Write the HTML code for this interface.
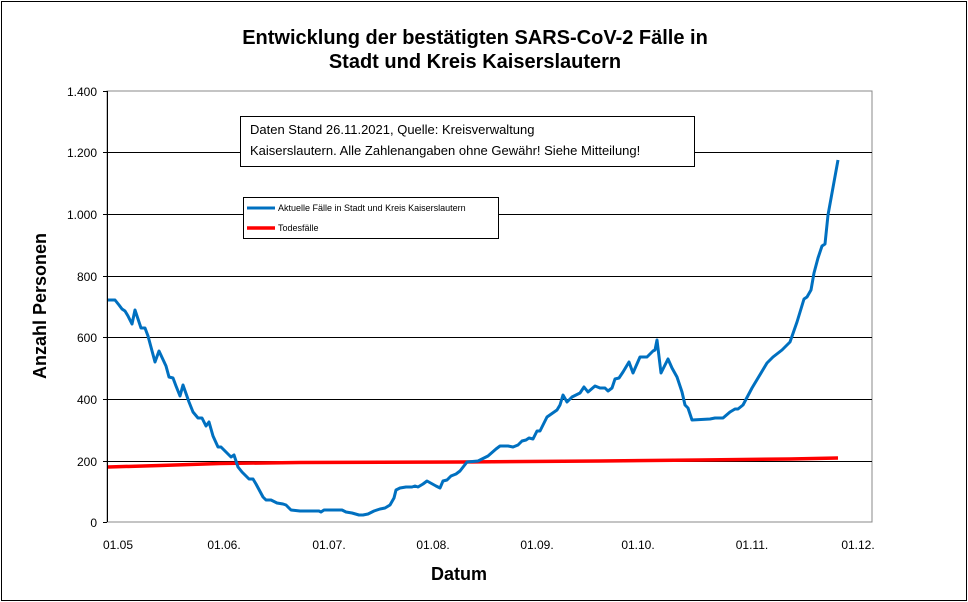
<!DOCTYPE html>
<html><head><meta charset="utf-8"><style>
body{margin:0;background:#fff;}
svg{display:block;font-family:"Liberation Sans",Arial,sans-serif;}
</style></head><body>
<svg width="968" height="602" viewBox="0 0 968 602">
<rect x="1.5" y="1.5" width="965" height="599" fill="#fff" stroke="#000" stroke-width="1"/>
<text x="475" y="44" font-size="20" font-weight="bold" text-anchor="middle">Entwicklung der bestätigten SARS-CoV-2 Fälle in</text>
<text x="475" y="68" font-size="20" font-weight="bold" text-anchor="middle">Stadt und Kreis Kaiserslautern</text>
<rect x="107" y="91" width="765" height="431" fill="#fff" stroke="#888" stroke-width="1"/>
<g stroke="#000" stroke-width="1">
<line x1="107" y1="152.5" x2="872" y2="152.5"/>
<line x1="107" y1="214.5" x2="872" y2="214.5"/>
<line x1="107" y1="276.5" x2="872" y2="276.5"/>
<line x1="107" y1="337.5" x2="872" y2="337.5"/>
<line x1="107" y1="399.5" x2="872" y2="399.5"/>
<line x1="107" y1="461.5" x2="872" y2="461.5"/>
<line x1="107.5" y1="91" x2="107.5" y2="522"/>
<line x1="103" y1="91.5" x2="107" y2="91.5"/><line x1="103" y1="152.5" x2="107" y2="152.5"/><line x1="103" y1="214.5" x2="107" y2="214.5"/><line x1="103" y1="276.5" x2="107" y2="276.5"/><line x1="103" y1="337.5" x2="107" y2="337.5"/><line x1="103" y1="399.5" x2="107" y2="399.5"/><line x1="103" y1="461.5" x2="107" y2="461.5"/><line x1="103" y1="522.5" x2="107" y2="522.5"/>
</g>
<g font-size="12" text-anchor="end">
<text x="97" y="96">1.400</text><text x="97" y="157">1.200</text><text x="97" y="219">1.000</text><text x="97" y="281">800</text><text x="97" y="342">600</text><text x="97" y="404">400</text><text x="97" y="466">200</text><text x="97" y="527">0</text>
</g>
<g font-size="12" text-anchor="middle">
<text x="118" y="549">01.05</text><text x="224" y="549">01.06.</text><text x="329" y="549">01.07.</text><text x="433" y="549">01.08.</text><text x="537" y="549">01.09.</text><text x="638" y="549">01.10.</text><text x="752" y="549">01.11.</text><text x="858" y="549">01.12.</text>
</g>
<text x="459" y="580" font-size="18" font-weight="bold" text-anchor="middle">Datum</text>
<text transform="translate(46,306) rotate(-90)" font-size="18" font-weight="bold" text-anchor="middle">Anzahl Personen</text>
<polyline fill="none" stroke="#ff0000" stroke-width="3.5" points="108,467 160,465.5 220,463.5 300,462.5 460,462 600,461 700,460 790,459 838,458"/>
<polyline fill="none" stroke="#0070c0" stroke-width="3" stroke-linejoin="round" points="108,300 115,300 119,305 122,309 125,311 128,316 132,324 135,310 141,328 145,328 148,336 155,362 159,351 166,366 169,377 173,378 176,386 180,396 183,385 189,402 193,412 198,418 202,418 206,426 209,422 213,436 218,447 221,447 227,453 231,457 234,455 238,467 242,472 249,479 253,479 256,484 263,497 266,500 271,500 277,503 283,504 286,505 291,510 300,511 319,511 321,512 324,510 342,510 346,512 352,513 359,515 363,515 368,514 374,511 380,509 385,508 390,505 394,498 396,490 400,488 406,487 412,487 415,486 418,487 423,484 427,481 436,486 440,488 443,481 447,480 451,476 456,474 460,471 467,462 478,461 488,456 496,449 500,446 508,446 513,447 518,445 522,441 526,440 529,438 533,439 537,431 540,431 547,417 557,410 560,405 563,395 567,402 572,397 580,393 584,387 588,392 595,386 600,388 605,388 608,391 612,388 615,379 619,378 623,372 629,362 633,373 640,357 647,357 653,351 655,350 657,340 661,373 668,359 672,368 677,377 682,392 685,405 688,408 692,420 710,419 715,418 723,418 730,412 735,409 738,409 743,405 752,388 758,378 767,363 773,357 782,350 790,342 797,322 804,299 807,297 811,290 814,273 818,258 822,246 825,244 828,215 832,193 838,160"/>
<rect x="240.5" y="116.5" width="454" height="50" fill="#fff" stroke="#000"/>
<text x="250" y="134" font-size="13">Daten Stand 26.11.2021, Quelle: Kreisverwaltung</text>
<text x="250" y="155" font-size="13">Kaiserslautern. Alle Zahlenangaben ohne Gewähr! Siehe Mitteilung!</text>
<rect x="243.5" y="197.5" width="255" height="41" fill="#fff" stroke="#000"/>
<line x1="247" y1="208" x2="275" y2="208" stroke="#0070c0" stroke-width="3"/>
<text x="278" y="211" font-size="9">Aktuelle Fälle in Stadt und Kreis Kaiserslautern</text>
<line x1="247" y1="228" x2="275" y2="228" stroke="#ff0000" stroke-width="3.5"/>
<text x="278" y="231" font-size="9">Todesfälle</text>
</svg>
</body></html>
